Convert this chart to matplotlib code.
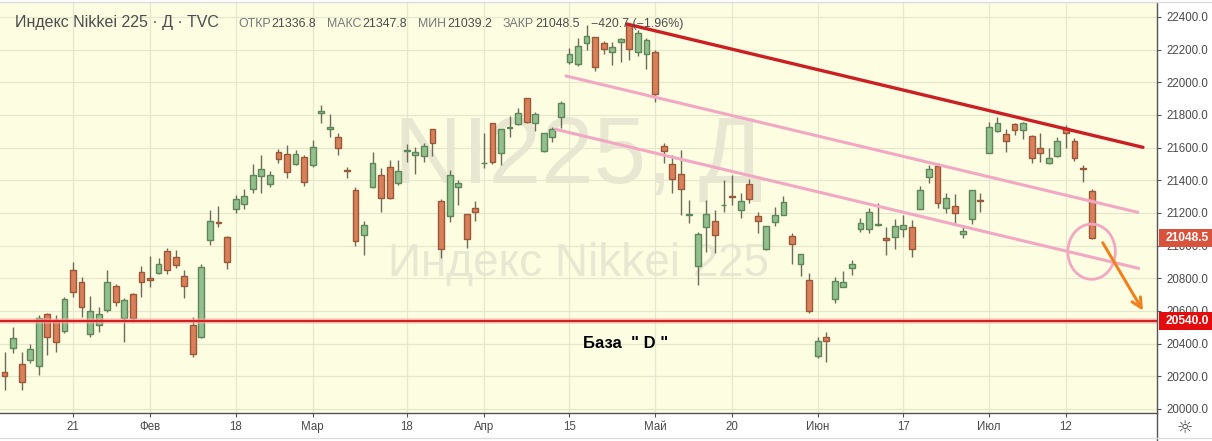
import numpy as np
import pandas as pd
import matplotlib
matplotlib.use("Agg")
import matplotlib.pyplot as plt
from matplotlib.patches import Rectangle, Ellipse
from matplotlib.lines import Line2D
import matplotlib.transforms as mtransforms

# ---------------- data ----------------
holidays = ["2019-01-14", "2019-02-11", "2019-03-21", "2019-04-29", "2019-04-30",
            "2019-05-01", "2019-05-02", "2019-05-03", "2019-05-06", "2019-07-15"]
dates = [d for d in pd.bdate_range("2019-01-08", "2019-07-18")
         if d.strftime("%Y-%m-%d") not in holidays]

opens = [20229, 20371, 20273, 20298, 20265, 20580, 20547, 20476, 20851, 20776,
         20457, 20512, 20604, 20751, 20559, 20702, 20837, 20800, 20835, 20965,
         20929, 20812, 20512, 20443, 21033, 21145, 21051, 21223, 21257, 21349,
         21425, 21376, 21572, 21559, 21502, 21541, 21492, 21815, 21712, 21663,
         21462, 21339, 21063, 21361, 21431, 21480, 21382, 21580, 21557, 21551,
         21714, 21274, 21182, 21357, 21192, 21229, 21505, 21749, 21565, 21722,
         21743, 21902, 21749, 21582, 21663, 21786, 22122, 22110, 22239, 22276,
         22239, 22188, 22245, 22351, 22184, 22171, 22184, 21612, 21498, 21437,
         21188, 20876, 21112, 21153, 21246, 21303, 21218, 21376, 21182, 20982,
         21147, 21190, 21059, 20886, 20790, 20324, 20441, 20671, 20749, 20861,
         21100, 21100, 21128, 21045, 21053, 21102, 21112, 21224, 21418, 21490,
         21229, 21243, 21069, 21161, 21279, 21569, 21702, 21684, 21743, 21708,
         21671, 21600, 21504, 21549, 21718, 21643, 21478, 21336.8]
highs = [20351, 20504, 20351, 20398, 20576, 20590, 20573, 20684, 20902, 20806,
         20692, 20622, 20851, 20765, 20678, 20708, 20876, 20937, 20922, 20984,
         20974, 20851, 20565, 20888, 21218, 21243, 21060, 21310, 21347, 21500,
         21555, 21459, 21590, 21616, 21586, 21555, 21647, 21861, 21804, 21692,
         21480, 21361, 21151, 21576, 21474, 21525, 21525, 21620, 21606, 21627,
         21714, 21286, 21463, 21402, 21192, 21274, 21688, 21749, 21712, 21794,
         21841, 21902, 21816, 21688, 21729, 21886, 22212, 22269, 22351, 22276,
         22253, 22249, 22273, 22361, 22320, 22269, 22198, 21627, 21555, 21586,
         21280, 21086, 21280, 21218, 21402, 21433, 21325, 21406, 21208, 21120,
         21239, 21304, 21079, 20947, 20831, 20443, 20473, 20810, 20847, 20912,
         21167, 21229, 21259, 21116, 21161, 21188, 21157, 21365, 21494, 21504,
         21320, 21316, 21127, 21341, 21324, 21759, 21786, 21712, 21753, 21759,
         21678, 21688, 21600, 21663, 21739, 21657, 21494, 21347.8]
lows = [20116, 20341, 20116, 20280, 20208, 20330, 20351, 20463, 20688, 20565,
        20443, 20473, 20596, 20633, 20412, 20535, 20688, 20749, 20827, 20827,
        20865, 20678, 20320, 20433, 21004, 21116, 20857, 21198, 21225, 21325,
        21325, 21361, 21508, 21412, 21494, 21367, 21484, 21751, 21667, 21555,
        21412, 21000, 20943, 21351, 21208, 21285, 21372, 21510, 21437, 21514,
        21551, 20922, 21147, 21249, 20984, 21151, 21478, 21498, 21494, 21667,
        21739, 21749, 21702, 21576, 21637, 21718, 22110, 22102, 22198, 22069,
        22171, 22106, 22126, 22137, 22163, 22080, 21882, 21505, 21320, 21188,
        21137, 20759, 20963, 20953, 21208, 21249, 21167, 21259, 21075, 20973,
        21120, 21190, 20888, 20814, 20590, 20310, 20290, 20651, 20749, 20820,
        21086, 21075, 21120, 20943, 20978, 21051, 20933, 21224, 21386, 21229,
        21198, 21137, 21045, 21131, 21208, 21565, 21698, 21576, 21678, 21653,
        21508, 21514, 21498, 21541, 21596, 21520, 21392, 21039.2]
closes = [20204, 20433, 20167, 20365, 20559, 20443, 20408, 20671, 20718, 20627,
          20600, 20580, 20776, 20653, 20665, 20559, 20776, 20788, 20888, 20849,
          20880, 20751, 20335, 20867, 21149, 21140, 20902, 21284, 21302, 21431,
          21467, 21431, 21529, 21449, 21559, 21388, 21602, 21822, 21729, 21596,
          21456, 21027, 21124, 21504, 21290, 21290, 21457, 21584, 21573, 21610,
          21627, 20978, 21431, 21382, 21039, 21208, 21509, 21510, 21712, 21725,
          21810, 21759, 21804, 21688, 21712, 21872, 22171, 22222, 22284, 22092,
          22204, 22218, 22263, 22204, 22304, 22259, 21927, 21582, 21406, 21345,
          21191, 21069, 21192, 21065, 21250, 21301, 21276, 21286, 21153, 21120,
          21188, 21265, 21008, 20947, 20602, 20416, 20414, 20784, 20780, 20888,
          21137, 21204, 21131, 21033, 21120, 21126, 20977, 21341, 21467, 21259,
          21290, 21198, 21090, 21341, 21276, 21729, 21753, 21641, 21708, 21749,
          21535, 21565, 21535, 21643, 21688, 21535, 21469.2, 21048.5]

tick_dates = ["2019-01-21", "2019-02-01", "2019-02-18", "2019-03-01", "2019-03-18",
              "2019-04-01", "2019-04-15", "2019-05-07", "2019-05-20", "2019-06-03",
              "2019-06-17", "2019-07-01", "2019-07-12"]
tick_labels = ["21", "Фев", "18", "Мар", "18", "Апр", "15", "Май", "20", "Июн",
               "17", "Июл", "12"]

header_title = "Индекс Nikkei 225 · Д · TVC"
header_labels = ["ОТКР", "МАКС", "МИН", "ЗАКР"]
header_values = ["21336.8", "21347.8", "21039.2", "21048.5"]
header_change = "−420.7 (−1.96%)"

base_level = 20540.0
last_close = 21048.5
# drawings: (bar index, price) anchor points
red_trend = [(72.7, 22357), (133.0, 21602)]
pink_upper = [(65.6, 22039), (132.4, 21204)]
pink_lower = [(64.4, 21712), (132.5, 20861)]
circle_center = (127.0, 20963)
arrow_pts = [(128.3, 21018), (133.0, 20602)]
base_text_pos = (72.6, 20398)

# ---------------- figure ----------------
W, H = 1212, 441
fig = plt.figure(figsize=(W / 100, H / 100), dpi=100)
fig.patch.set_facecolor("white")
ax = fig.add_axes([0, (H - 413) / H, 1157 / W, (413 - 3) / H])
bg = "#fdfde2"
ax.set_facecolor(bg)
ax.set_xlim(-0.526, 134.64)
ax.set_ylim(19975.5, 22485.7)

date_str = [d.strftime("%Y-%m-%d") for d in dates]
xt = [date_str.index(t) for t in tick_dates]
ax.set_xticks(xt)
ax.set_xticklabels(tick_labels)
ax.yaxis.tick_right()
yt = np.arange(20000, 22401, 200)
ax.set_yticks(yt)
ax.set_yticklabels([f"{v:.1f}" for v in yt])
for lab in ax.get_xticklabels() + ax.get_yticklabels():
    lab.set_fontfamily("Liberation Sans")
ax.tick_params(axis="y", direction="out", length=3, width=0.8, pad=3.5,
               labelsize=8.3, colors="#555555", labelcolor="#4a4a4a")
ax.tick_params(axis="x", direction="out", length=3, width=0.8, pad=3,
               labelsize=8.3, colors="#555555", labelcolor="#4a4a4a")
for s in ["left", "top"]:
    ax.spines[s].set_visible(False)
for s in ["right", "bottom"]:
    ax.spines[s].set_color("#555555")
    ax.spines[s].set_linewidth(1.0)
ax.grid(True, color="#e6e7cf", linewidth=0.9, zorder=0)
ax.set_axisbelow(True)

# watermark
ax.text(0.5, (413 - 158) / 410, "NI225, Д", transform=ax.transAxes,
        ha="center", va="center", fontsize=68, color="#e8e8d2",
        family="Liberation Sans", zorder=0.5)
ax.text(0.5, (413 - 264) / 410, "Индекс Nikkei 225", transform=ax.transAxes,
        ha="center", va="center", fontsize=33, color="#e8e8d2",
        family="Liberation Sans", zorder=0.5)

# candles
x = np.arange(len(closes))
o = np.array(opens, float); c = np.array(closes, float)
h = np.array(highs, float); l = np.array(lows, float)
up = c >= o
g_fill, g_edge = "#92bf8d", "#5d8758"
r_fill, r_edge = "#d9805a", "#9a5838"
ax.vlines(x, l, h, color="#6c6c58", linewidth=1.0, zorder=2)
bottoms = np.minimum(o, c)
heights = np.maximum(np.abs(c - o), 2.0)
ax.bar(x, heights, bottom=bottoms, width=0.68,
       color=np.where(up, g_fill, r_fill), edgecolor=np.where(up, g_edge, r_edge),
       linewidth=1.0, zorder=3)

# horizontal base line
ax.axhline(base_level, color="#f4b0b0", linewidth=4.0, zorder=3.5, alpha=0.6)
ax.axhline(base_level, color="#d81e1e", linewidth=1.6, zorder=3.6)

# trend lines
ax.plot(*zip(*pink_upper), color="#f2a8c2", linewidth=2.2, zorder=4,
        solid_capstyle="round")
ax.plot(*zip(*pink_lower), color="#f2a8c2", linewidth=2.2, zorder=4,
        solid_capstyle="round")
ax.plot(*zip(*red_trend), color="#cc1f24", linewidth=2.4, zorder=4,
        solid_capstyle="round")

# circle
ax.add_patch(Ellipse(circle_center, width=5.55, height=338, fill=False,
                     edgecolor="#f2a8c2", linewidth=2.0, zorder=4))
# orange arrow
ax.annotate("", xy=arrow_pts[1], xytext=arrow_pts[0],
            arrowprops=dict(arrowstyle="->,head_length=0.7,head_width=0.35",
                            color="#f0821e", linewidth=2.2, shrinkA=0, shrinkB=0),
            zorder=5)

ax.text(*base_text_pos, 'База  " D "', ha="center", va="center", fontsize=12,
        fontweight="bold", family="Liberation Sans", color="black", zorder=5)

# price labels on right axis
trans = mtransforms.blended_transform_factory(ax.transAxes, ax.transData)
ppx = 410 / (22485.7 - 19975.5)  # pixels per price unit
for val, col in [(last_close, "#d9533c"), (base_level, "#e30b0b")]:
    ax.add_patch(Rectangle((1.0 + 2 / 1157, val - 9 / ppx), 55 / 1157, 18 / ppx,
                           transform=trans, facecolor=col, edgecolor="none",
                           clip_on=False, zorder=6))
    ax.text(1.0 + 30 / 1157, val, f"{val:.1f}", transform=trans, ha="center",
            va="center", fontsize=8.6, color="white", fontweight="bold",
            family="Liberation Sans", clip_on=False, zorder=7)

# frame lines
fig.add_artist(Line2D([1157 / W, 1157 / W], [0, 1 - 413 / H], color="#555555",
                      linewidth=1.0))
fig.add_artist(Line2D([0, 1], [1 - 437.5 / H, 1 - 437.5 / H], color="#dcdcdc",
                      linewidth=1.0))
fig.add_artist(Line2D([0, 1], [1 - 2 / H, 1 - 2 / H], color="#dcdcdc",
                      linewidth=1.0))
fig.text(1185 / W, 1 - 428 / H, "☼", ha="center", va="center", fontsize=13,
         color="#444444", family="DejaVu Sans")

# header
fig.text(15 / W, 1 - 27.5 / H, header_title, ha="left",
         va="baseline", fontsize=11.5, color="#4d4d4d", family="Liberation Sans")

renderer = fig.canvas.get_renderer()
cur = 238.0
pieces = []
for lab, val in zip(header_labels, header_values):
    pieces.append((lab, "#777777", 1.0))
    pieces.append((val, "#4d4d4d", 11.0))
pieces.append((header_change, "#4d4d4d", 0))
for txt, col, gap in pieces:
    t = fig.text(cur / W, 1 - 27 / H, txt, ha="left", va="baseline", fontsize=8.9,
                 color=col, family="Liberation Sans")
    bb = t.get_window_extent(renderer=renderer)
    cur += bb.width + gap

fig.savefig("out.png", dpi=100, facecolor=fig.get_facecolor())
